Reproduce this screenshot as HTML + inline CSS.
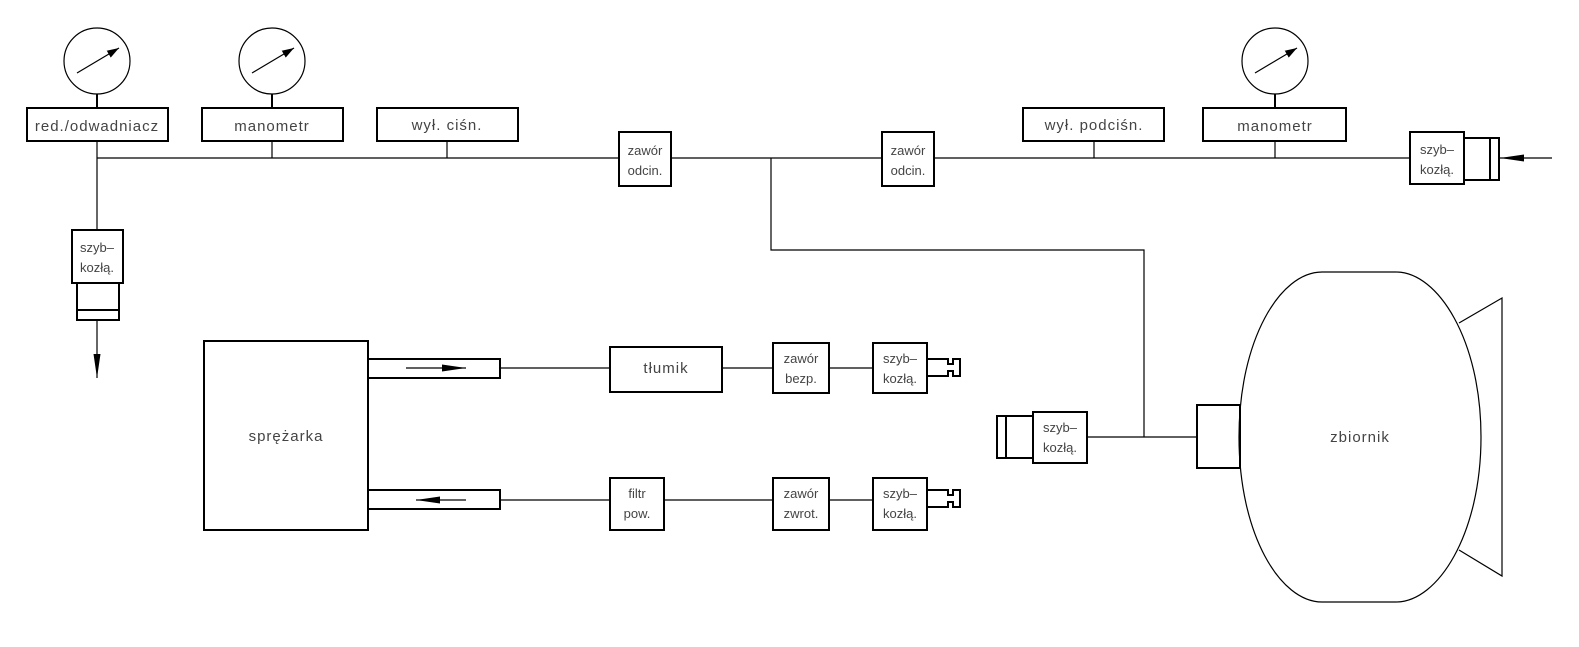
<!DOCTYPE html>
<html><head><meta charset="utf-8"><style>
html,body{margin:0;padding:0;background:#fff}
svg text{font-family:"Liberation Sans","DejaVu Sans",sans-serif;fill:#444;font-size:15px;letter-spacing:1px}
svg text.s{font-size:13px;letter-spacing:0}
</style></head><body>
<svg width="1579" height="642" viewBox="0 0 1579 642" xmlns="http://www.w3.org/2000/svg">
<defs><marker id="ah" markerWidth="12" markerHeight="8" refX="12" refY="4" orient="auto" markerUnits="userSpaceOnUse"><path d="M0,0L12,4L0,8Z" fill="#000"/></marker>
<marker id="ah2" markerWidth="24" markerHeight="10" refX="24" refY="5" orient="auto" markerUnits="userSpaceOnUse"><path d="M0,1.5L24,5L0,8.5Z" fill="#000"/></marker></defs>
<g stroke="#000" fill="none" stroke-width="1.2">
<line x1="97" y1="158" x2="619" y2="158"/>
<line x1="671" y1="158" x2="882" y2="158"/>
<line x1="934" y1="158" x2="1410" y2="158"/>
<line x1="1552" y1="158" x2="1500" y2="158" marker-end="url(#ah2)"/>
<line x1="97" y1="141" x2="97" y2="230"/>
<line x1="272" y1="141" x2="272" y2="158"/>
<line x1="447" y1="141" x2="447" y2="158"/>
<line x1="1094" y1="141" x2="1094" y2="158"/>
<line x1="1275" y1="141" x2="1275" y2="158"/>
<line x1="97" y1="94" x2="97" y2="108" stroke-width="2"/>
<line x1="272" y1="94" x2="272" y2="108" stroke-width="2"/>
<line x1="1275" y1="94" x2="1275" y2="108" stroke-width="2"/>
<polyline points="771,158 771,250 1144,250 1144,437"/>
<line x1="1087" y1="437" x2="1197" y2="437"/>
<line x1="97" y1="320" x2="97" y2="378" marker-end="url(#ah2)"/>
<circle cx="97" cy="61" r="33"/>
<circle cx="272" cy="61" r="33"/>
<circle cx="1275" cy="61" r="33"/>
<line x1="77" y1="73" x2="119" y2="48" marker-end="url(#ah)"/>
<line x1="252" y1="73" x2="294" y2="48" marker-end="url(#ah)"/>
<line x1="1255" y1="73" x2="1297" y2="48" marker-end="url(#ah)"/>
<g stroke-width="2">
<rect x="27" y="108" width="141" height="33"/>
<rect x="202" y="108" width="141" height="33"/>
<rect x="377" y="108" width="141" height="33"/>
<rect x="1023" y="108" width="141" height="33"/>
<rect x="1203" y="108" width="143" height="33"/>
<rect x="619" y="132" width="52" height="54"/>
<rect x="882" y="132" width="52" height="54"/>
<rect x="1410" y="132" width="54" height="52"/>
<rect x="1464" y="138" width="35" height="42"/><line x1="1490" y1="138" x2="1490" y2="180"/>
<rect x="72" y="230" width="51" height="53"/>
<rect x="77" y="283" width="42" height="37"/><line x1="77" y1="310" x2="119" y2="310"/>
<rect x="204" y="341" width="164" height="189"/>
<rect x="368" y="359" width="132" height="19"/>
<rect x="368" y="490" width="132" height="19"/>
<rect x="610" y="347" width="112" height="45"/>
<rect x="773" y="343" width="56" height="50"/>
<rect x="873" y="343" width="54" height="50"/>
<rect x="610" y="478" width="54" height="52"/>
<rect x="773" y="478" width="56" height="52"/>
<rect x="873" y="478" width="54" height="52"/>
<path d="M927,359H948V364H953V359H960V376H953V371H948V376H927"/>
<path d="M927,490H948V495H953V490H960V507H953V502H948V507H927"/>
<rect x="1033" y="412" width="54" height="51"/>
<rect x="997" y="416" width="36" height="42"/><line x1="1006" y1="416" x2="1006" y2="458"/>
<rect x="1197" y="405" width="43" height="63"/>
</g>
<line x1="500" y1="368" x2="610" y2="368"/>
<line x1="722" y1="368" x2="773" y2="368"/>
<line x1="829" y1="368" x2="873" y2="368"/>
<line x1="500" y1="500" x2="610" y2="500"/>
<line x1="664" y1="500" x2="773" y2="500"/>
<line x1="829" y1="500" x2="873" y2="500"/>
<line x1="406" y1="368" x2="466" y2="368" marker-end="url(#ah2)"/>
<line x1="466" y1="500" x2="416" y2="500" marker-end="url(#ah2)"/>
<path d="M1322,272L1396,272C1438,272 1481,340 1481,437C1481,534 1438,602 1396,602L1322,602C1280,602 1239,534 1239,437C1239,340 1280,272 1322,272Z"/>
<polyline points="1459,323 1502,298 1502,576 1459,550"/>
</g>
<g text-anchor="middle">
<text x="97" y="131">red./odwadniacz</text>
<text x="272" y="131">manometr</text>
<text x="447" y="130">wył.  ciśn.</text>
<text x="1094" y="130">wył.  podciśn.</text>
<text x="1275" y="131">manometr</text>
<text class="s" x="645" y="155">zawór</text><text class="s" x="645" y="175">odcin.</text>
<text class="s" x="908" y="155">zawór</text><text class="s" x="908" y="175">odcin.</text>
<text class="s" x="1437" y="154">szyb–</text><text class="s" x="1437" y="174">kozłą.</text>
<text class="s" x="97" y="252">szyb–</text><text class="s" x="97" y="272">kozłą.</text>
<text x="286" y="441">sprężarka</text>
<text x="666" y="373">tłumik</text>
<text class="s" x="801" y="363">zawór</text><text class="s" x="801" y="383">bezp.</text>
<text class="s" x="900" y="363">szyb–</text><text class="s" x="900" y="383">kozłą.</text>
<text class="s" x="637" y="498">filtr</text><text class="s" x="637" y="518">pow.</text>
<text class="s" x="801" y="498">zawór</text><text class="s" x="801" y="518">zwrot.</text>
<text class="s" x="900" y="498">szyb–</text><text class="s" x="900" y="518">kozłą.</text>
<text class="s" x="1060" y="432">szyb–</text><text class="s" x="1060" y="452">kozłą.</text>
<text x="1360" y="442">zbiornik</text>
</g>
</svg>
</body></html>
